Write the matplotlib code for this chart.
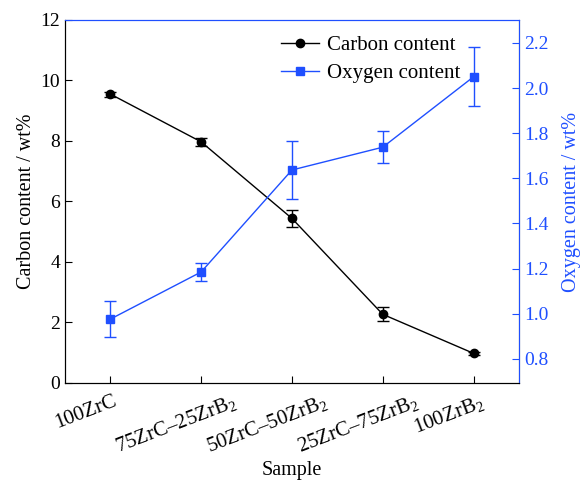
import matplotlib
matplotlib.use('Agg')
import matplotlib.pyplot as plt
import matplotlib.transforms as mtransforms
from matplotlib.lines import Line2D

plt.rcParams['font.family'] = ['Liberation Serif', 'DejaVu Serif']
plt.rcParams['mathtext.fontset'] = 'custom'
plt.rcParams['mathtext.rm'] = 'Liberation Serif'
plt.rcParams['mathtext.it'] = 'Liberation Serif:italic'

# data
samples = ['100ZrC', '75ZrC\u201325ZrB$_2$', '50ZrC\u201350ZrB$_2$',
           '25ZrC\u201375ZrB$_2$', '100ZrB$_2$']
carbon = [9.55, 7.97, 5.44, 2.27, 0.98]
carbon_err = [0.08, 0.14, 0.27, 0.23, 0.05]
oxygen = [0.976, 1.185, 1.637, 1.738, 2.05]
oxygen_err = [0.08, 0.04, 0.13, 0.07, 0.13]

blue = '#1f4fff'
x = list(range(len(samples)))

fig = plt.figure(figsize=(5.88, 4.87), dpi=100)
ax = fig.add_axes([0.1105, 0.2136, 0.772, 0.7454])
ax2 = ax.twinx()

ax.errorbar(x, carbon, yerr=carbon_err, color='black', marker='o',
            markersize=6, lw=1, capsize=4, elinewidth=1)
ax2.errorbar(x, oxygen, yerr=oxygen_err, color=blue, marker='s',
             markersize=5.5, lw=1, capsize=4, elinewidth=1)

ax.set_xlim(-0.5, 4.5)
ax.set_ylim(0, 12)
ax.set_yticks(range(0, 13, 2))
ax2.set_ylim(0.693, 2.302)
ax2.set_yticks([0.8, 1.0, 1.2, 1.4, 1.6, 1.8, 2.0, 2.2])
ax2.set_yticklabels(['0.8', '1.0', '1.2', '1.4', '1.6', '1.8', '2.0', '2.2'])

ax.tick_params(axis='y', direction='in', labelsize=14, length=5)
ax.tick_params(axis='x', direction='in', length=5, labelbottom=False)
ax2.tick_params(axis='y', direction='in', labelsize=14, length=5,
                colors=blue)
ax.set_xticks(x)

# sample names: rotated, sitting a little left of each tick
shift = mtransforms.ScaledTranslation(-0.25, -0.09, fig.dpi_scale_trans)
for xi, name in zip(x, samples):
    ax.text(xi, 0, name, transform=ax.get_xaxis_transform() + shift,
            rotation=21, ha='center', va='top', fontsize=15)

ax.set_xlabel('Sample', fontsize=14.5, va='top')
ax.xaxis.set_label_coords(0.5, -0.215)
ax.set_ylabel('Carbon content / wt%', fontsize=14.5, labelpad=3)
ax2.set_ylabel('Oxygen content / wt%', fontsize=14.5, color=blue, labelpad=10)

ax2.spines['right'].set_color(blue)
ax2.spines['top'].set_color(blue)
ax.spines['top'].set_color(blue)

handles = [Line2D([], [], color='black', marker='o', markersize=6, lw=1),
           Line2D([], [], color=blue, marker='s', markersize=5.5, lw=1)]
ax.legend(handles, ['Carbon content', 'Oxygen content'], loc='upper right',
          bbox_to_anchor=(0.894, 0.985), frameon=False, fontsize=15,
          handlelength=1.8, handletextpad=0.4, labelspacing=0.4,
          borderaxespad=0.1)

fig.savefig('out.png', dpi=100)
